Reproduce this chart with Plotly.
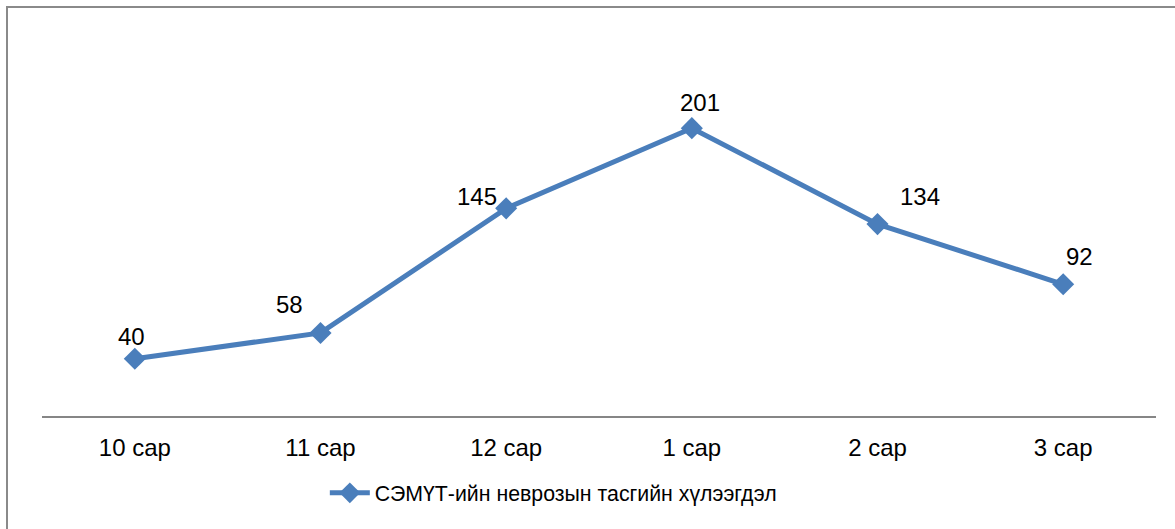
import plotly.graph_objects as go

categories = ["10 сар", "11 сар", "12 сар", "1 сар", "2 сар", "3 сар"]
values = [40, 58, 145, 201, 134, 92]
series_name = "СЭМҮТ-ийн неврозын тасгийн хүлээгдэл"

# label offsets in pixels (as placed in the reference)
label_dx = [-3, -31, -29, 8, 42, 16]
label_dy = [22, 28, 12, 26, 28, 28]

BLUE = "#4A7EBB"
FONT = "Liberation Sans, Arial, sans-serif"

fig = go.Figure()
fig.add_trace(go.Scatter(
    x=categories, y=values, mode="lines+markers", name=series_name,
    line=dict(color=BLUE, width=5),
    marker=dict(symbol="diamond", size=17, color=BLUE),
    cliponaxis=False,
))

for c, v, dx, dy in zip(categories, values, label_dx, label_dy):
    fig.add_annotation(x=c, y=v, text=str(v), showarrow=False,
                       xshift=dx, yshift=dy, font=dict(size=24, color="#000000", family=FONT))

W, H = 1175, 529
L, R, T, B = 42, 19, 58, 113
pw, ph = W - L - R, H - T - B

# outer chart border (top and left visible)
fig.add_shape(type="rect", xref="paper", yref="paper",
              x0=(7 - L) / pw, x1=(1190 - L) / pw,
              y0=1 + (T - 540) / ph, y1=1 + (T - 7) / ph,
              line=dict(color="#8a8a8a", width=2), fillcolor="rgba(0,0,0,0)", layer="below")

fig.update_layout(
    width=W, height=H,
    margin=dict(l=L, r=R, t=T, b=B),
    paper_bgcolor="white", plot_bgcolor="white",
    font=dict(family=FONT, size=22, color="#000000"),
    showlegend=True,
    legend=dict(orientation="h", x=0.459, xanchor="center", y=-0.215, yanchor="middle",
                font=dict(size=21.3, family=FONT), itemwidth=40),
    xaxis=dict(type="category", range=[-0.5, 5.5], showgrid=False, zeroline=False,
               showline=True, linecolor="#868686", linewidth=2, ticks="",
               tickfont=dict(size=24, family=FONT), ticklabelstandoff=9),
    yaxis=dict(range=[0, 250], visible=False, showgrid=False, zeroline=False),
)

fig.write_html("out.html", config={"displayModeBar": False},
               post_script="document.body.style.margin='0';")
